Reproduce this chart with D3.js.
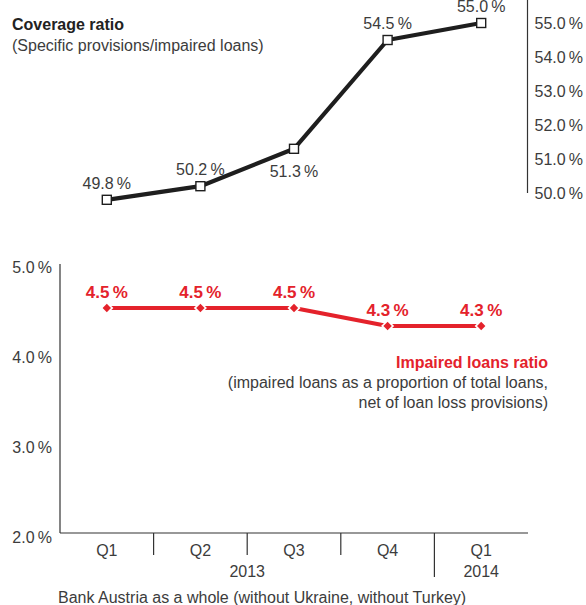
<!DOCTYPE html>
<html>
<head>
<meta charset="utf-8">
<script src="https://cdn.jsdelivr.net/npm/d3@7/dist/d3.min.js"></script>
<style>
  html, body { margin: 0; padding: 0; background: #fff; }
  svg { display: block; }
  text { font-family: "Liberation Sans", Arial, sans-serif; fill: #3c3c3c; }
</style>
</head>
<body>
<svg id="chart" width="586" height="605"></svg>
<script>
// Quarters shown on the shared x axis
const quarters = ["Q1", "Q2", "Q3", "Q4", "Q1"];
const years = [
  { label: "2013", from: 0, to: 3 },
  { label: "2014", from: 4, to: 4 }
];

// Coverage ratio (specific provisions / impaired loans), in %
const coverage = [49.8, 50.2, 51.3, 54.5, 55.0];
const coverageTicks = [50, 51, 52, 53, 54, 55];
const coverageLabelSide = ["above", "above", "below", "above", "above"];

// Impaired loans ratio, in %
const impaired = [4.5, 4.5, 4.5, 4.3, 4.3];
const impairedTicks = [2, 3, 4, 5];

const RED = "#e4222b";
const INK = "#1e1e1e";
const pct = d => d.toFixed(1) + "\u2009%";

const svg = d3.select("#chart");

// shared horizontal band scale
const x = d3.scaleBand().domain(d3.range(quarters.length)).range([60, 528]).padding(0);
const cx = i => x(i) + x.bandwidth() / 2;

/* ---------------- coverage ratio (top) ---------------- */
const yTop = d3.scaleLinear().domain([50, 55]).range([193, 23]);

svg.append("text").attr("x", 12).attr("y", 30)
  .style("font-size", "16px").style("font-weight", "bold")
  .style("fill", "#222").text("Coverage ratio");
svg.append("text").attr("x", 12).attr("y", 51)
  .style("font-size", "16px")
  .text("(Specific provisions/impaired loans)");

// right-hand axis
const rightAxis = d3.axisRight(yTop).tickValues(coverageTicks).tickSize(0).tickPadding(7).tickFormat(pct);
const gR = svg.append("g").attr("transform", "translate(527.5,0)").call(rightAxis);
gR.select(".domain").attr("d", `M0,0V${yTop(50)}`).attr("stroke", "#333").attr("stroke-width", 1.2);
gR.selectAll("text").style("font-size", "16px")
  .style("fill", "#3c3c3c").attr("font-family", null).attr("dy", "0.35em");

svg.append("path")
  .datum(coverage)
  .attr("fill", "none").attr("stroke", INK).attr("stroke-width", 4.2).attr("stroke-linejoin", "round")
  .attr("d", d3.line().x((d, i) => cx(i)).y(d => yTop(d)));

svg.selectAll(".cov-mark").data(coverage).join("rect")
  .attr("class", "cov-mark")
  .attr("x", (d, i) => cx(i) - 4.5).attr("y", d => yTop(d) - 4.5)
  .attr("width", 9).attr("height", 9)
  .attr("fill", "#fff").attr("stroke", INK).attr("stroke-width", 1.4);

svg.selectAll(".cov-label").data(coverage).join("text")
  .attr("class", "cov-label")
  .attr("x", (d, i) => cx(i))
  .attr("y", (d, i) => yTop(d) + (coverageLabelSide[i] === "below" ? 28 : -11))
  .attr("text-anchor", "middle")
  .style("font-size", "16px")
  .text(pct);

/* ---------------- impaired loans ratio (bottom) ---------------- */
const yBot = d3.scaleLinear().domain([2, 5]).range([533, 263]);

const leftAxis = d3.axisLeft(yBot).tickValues(impairedTicks).tickSize(0).tickPadding(8).tickFormat(pct);
const gL = svg.append("g").attr("transform", "translate(60,0)").call(leftAxis);
gL.select(".domain").attr("d", `M0,${yBot(5) + 1}V${yBot(2)}`).attr("stroke", "#333").attr("stroke-width", 1.2);
gL.selectAll("text").style("font-size", "16px")
  .style("fill", "#3c3c3c").attr("font-family", null).attr("y", 4).attr("dy", "0.35em");

// x axis baseline with quarter separators
svg.append("line").attr("x1", 60).attr("x2", x.range()[1]).attr("y1", yBot(2)).attr("y2", yBot(2))
  .attr("stroke", "#333").attr("stroke-width", 1.2);

const yearStarts = years.map(y => y.from).filter(i => i > 0);
svg.selectAll(".sep").data(d3.range(1, quarters.length)).join("line")
  .attr("class", "sep")
  .attr("x1", i => x(i)).attr("x2", i => x(i))
  .attr("y1", yBot(2)).attr("y2", i => yBot(2) + (yearStarts.includes(i) ? 44 : 22))
  .attr("stroke", "#333").attr("stroke-width", 1.2);

svg.selectAll(".q-label").data(quarters).join("text")
  .attr("class", "q-label")
  .attr("x", (d, i) => cx(i)).attr("y", 556)
  .attr("text-anchor", "middle")
  .style("font-size", "16px")
  .text(d => d);

svg.selectAll(".yr-label").data(years).join("text")
  .attr("class", "yr-label")
  .attr("x", d => (x(d.from) + x(d.to) + x.bandwidth()) / 2).attr("y", 577)
  .attr("text-anchor", "middle")
  .style("font-size", "16px")
  .text(d => d.label);

// series line, then haloed diamond markers
svg.append("path")
  .datum(impaired)
  .attr("fill", "none").attr("stroke", RED).attr("stroke-width", 4).attr("stroke-linejoin", "round")
  .attr("d", d3.line().x((d, i) => cx(i)).y(d => yBot(d)));

const diamond = d3.symbol().type(d3.symbolDiamond2);
svg.selectAll(".imp-halo").data(impaired).join("path")
  .attr("class", "imp-halo")
  .attr("transform", (d, i) => `translate(${cx(i)},${yBot(d)})`)
  .attr("d", diamond.size(110)())
  .attr("fill", "#fff");
svg.selectAll(".imp-mark").data(impaired).join("path")
  .attr("class", "imp-mark")
  .attr("transform", (d, i) => `translate(${cx(i)},${yBot(d)})`)
  .attr("d", diamond.size(45)())
  .attr("fill", RED);

svg.selectAll(".imp-label").data(impaired).join("text")
  .attr("class", "imp-label")
  .attr("x", (d, i) => cx(i)).attr("y", d => yBot(d) - 10)
  .attr("text-anchor", "middle")
  .style("font-size", "17px").style("font-weight", "bold")
  .style("fill", RED)
  .text(pct);

// series caption
svg.append("text").attr("x", 548).attr("y", 368).attr("text-anchor", "end")
  .style("font-size", "16px").style("font-weight", "bold")
  .style("fill", RED).text("Impaired loans ratio");
svg.append("text").attr("x", 548).attr("y", 388).attr("text-anchor", "end")
  .style("font-size", "16px")
  .text("(impaired loans as a proportion of total loans,");
svg.append("text").attr("x", 548).attr("y", 408).attr("text-anchor", "end")
  .style("font-size", "16px")
  .text("net of loan loss provisions)");

// footnote
svg.append("text").attr("x", 58).attr("y", 603)
  .style("font-size", "16px")
  .text("Bank Austria as a whole (without Ukraine, without Turkey)");
</script>
</body>
</html>
